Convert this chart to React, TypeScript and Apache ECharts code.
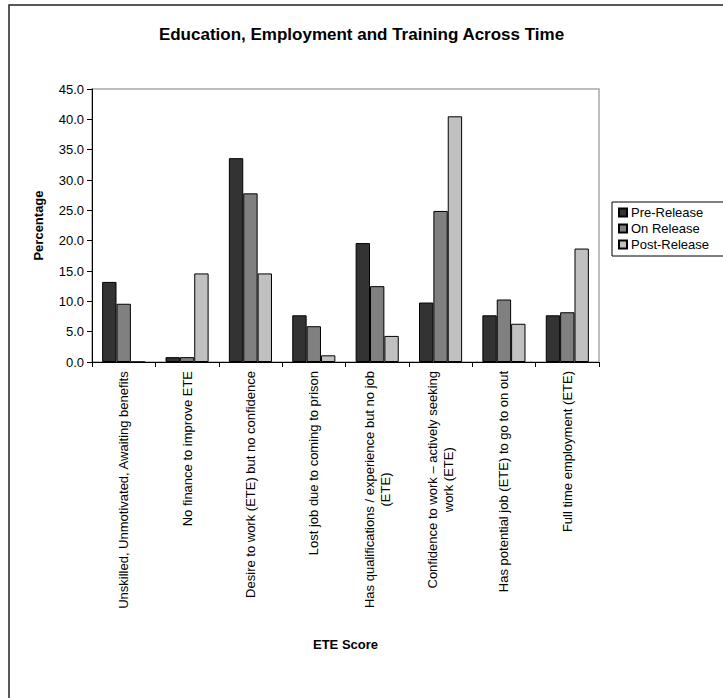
import React, { useEffect, useRef } from "react";
import * as echarts from "echarts";

const categories = [
  "Unskilled, Unmotivated, Awaiting benefits",
  "No finance to improve ETE",
  "Desire to work (ETE) but no confidence",
  "Lost job due to coming to prison",
  "Has qualifications / experience but no job\n(ETE)",
  "Confidence to work – actively seeking\nwork (ETE)",
  "Has potential job (ETE) to go to on out",
  "Full time employment (ETE)",
];

const preRelease = [13.2, 0.8, 33.6, 7.7, 19.6, 9.8, 7.7, 7.7];
const onRelease = [9.6, 0.8, 27.8, 5.9, 12.5, 24.9, 10.3, 8.2];
const postRelease = [0, 14.6, 14.6, 1.1, 4.3, 40.5, 6.3, 18.7];

const seriesNames = ["Pre-Release", "On Release", "Post-Release"];
const seriesColors = ["#333333", "#808080", "#c0c0c0"];

const FONT = "'Liberation Sans', Arial, sans-serif";

export default function App() {
  const ref = useRef<HTMLDivElement>(null);

  useEffect(() => {
    if (!ref.current) return;
    const chart = echarts.init(ref.current, undefined, { renderer: "svg" });
    const values = [preRelease, onRelease, postRelease];

    chart.setOption({
      animation: false,
      backgroundColor: "#ffffff",
      textStyle: { fontFamily: FONT, color: "#000" },
      title: {
        text: "Education, Employment and Training Across Time",
        left: "center",
        top: 21,
        textStyle: { fontFamily: FONT, fontSize: 17, fontWeight: "bold", color: "#000" },
      },
      graphic: [
        {
          type: "rect",
          shape: { x: 9, y: 5, width: 900, height: 900 },
          style: { fill: "none", stroke: "#222", lineWidth: 1.5 },
          silent: true,
          z: 100,
        },
      ],
      legend: {
        orient: "vertical",
        left: 612,
        top: 202,
        itemWidth: 8,
        itemHeight: 8,
        itemGap: 3,
        icon: "rect",
        padding: [4, 30, 5, 6],
        borderColor: "#000",
        borderWidth: 1,
        backgroundColor: "#fff",
        textStyle: { fontFamily: FONT, fontSize: 13, color: "#000", padding: [0, 0, 0, -1] },
        data: seriesNames,
      },
      grid: {
        left: 92,
        top: 89,
        right: 124,
        bottom: 336,
        show: true,
        borderColor: "#a8a8a8",
        borderWidth: 1.5,
      },
      xAxis: {
        type: "category",
        data: categories,
        boundaryGap: true,
        name: "ETE Score",
        nameLocation: "middle",
        nameGap: 276,
        nameTextStyle: { fontFamily: FONT, fontSize: 13, fontWeight: "bold", color: "#000" },
        axisLine: { lineStyle: { color: "#000", width: 1 } },
        axisTick: { show: true, length: 5, alignWithLabel: false, lineStyle: { color: "#000" } },
        axisLabel: {
          interval: 0,
          rotate: 90,
          margin: 9,
          color: "#000",
          fontFamily: FONT,
          fontSize: 13,
          lineHeight: 16,
          formatter: (v: string) =>
            v
              .split("\n")
              .map((line) => `{c|${line}}`)
              .join("\n"),
          rich: {
            c: { align: "center", fontFamily: FONT, fontSize: 13, lineHeight: 16, color: "#000" },
          },
        },
      },
      yAxis: {
        type: "value",
        min: 0,
        max: 45,
        interval: 5,
        name: "Percentage",
        nameLocation: "middle",
        nameGap: 47,
        nameTextStyle: { fontFamily: FONT, fontSize: 13, fontWeight: "bold", color: "#000" },
        axisLine: { show: true, lineStyle: { color: "#000", width: 1 } },
        axisTick: { show: true, length: 5, lineStyle: { color: "#000" } },
        splitLine: { show: false },
        axisLabel: {
          margin: 8,
          color: "#000",
          fontFamily: FONT,
          fontSize: 13,
          formatter: (v: number) => v.toFixed(1),
        },
      },
      series: seriesNames.map((name, i) => ({
        name,
        type: "bar",
        data: values[i],
        barGap: "0%",
        barCategoryGap: "32%",
        itemStyle: { color: seriesColors[i], borderColor: "#000", borderWidth: 1 },
      })),
    });

    return () => chart.dispose();
  }, []);

  return (
    <div
      ref={ref}
      style={{ position: "fixed", left: 0, top: 0, width: 723, height: 698 }}
    />
  );
}
